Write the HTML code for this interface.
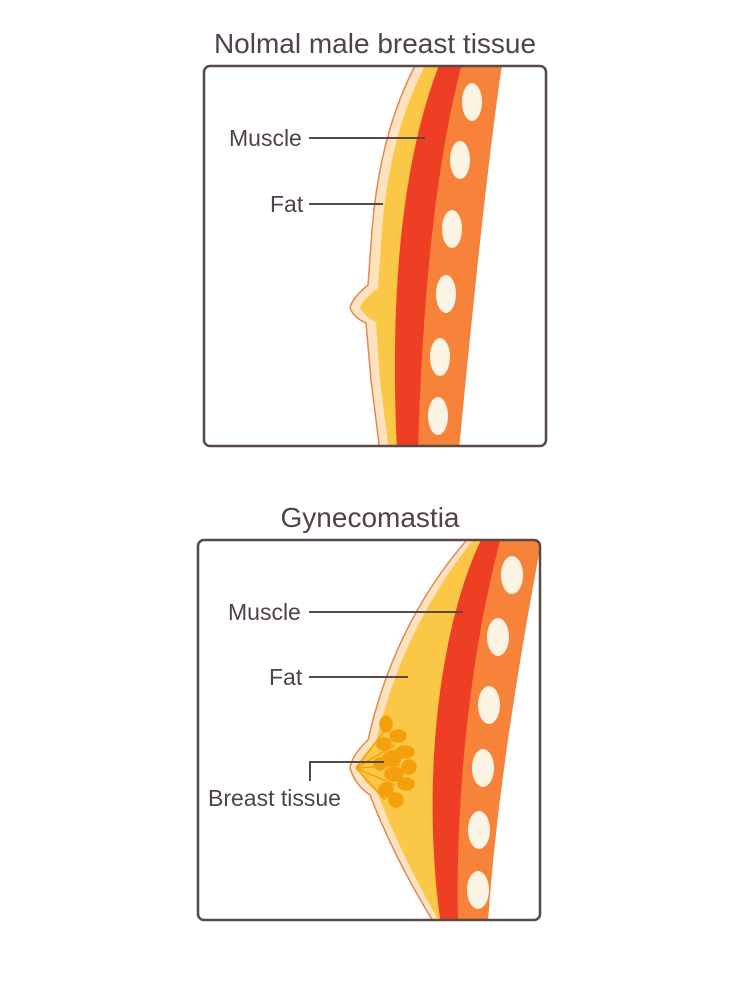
<!DOCTYPE html>
<html><head><meta charset="utf-8"><style>
html,body{margin:0;padding:0;background:#fff;}
svg{display:block;}
text{font-family:"Liberation Sans",sans-serif;fill:#4f4442;}
</style></head><body>
<svg width="750" height="1000" viewBox="0 0 750 1000" xmlns="http://www.w3.org/2000/svg">
<defs>
<clipPath id="c1"><rect x="204" y="66" width="342" height="380" rx="6"/></clipPath>
<clipPath id="c2"><rect x="198" y="540" width="342" height="380" rx="6"/></clipPath>
</defs>
<text x="375" y="53" font-size="28" text-anchor="middle">Nolmal male breast tissue</text>
<g clip-path="url(#c1)">
<path d="M418,60 Q380,130 372,230 L368,285 Q352,298 350,308 Q354,318 366,323 L371,380 L380,452 L458,452 Q485,170 502,60 Z" fill="#fde2bf" stroke="#e3874f" stroke-width="1.5"/>
<path d="M428,60 Q390,130 382,230 L378,288 Q362,300 360,308 Q364,316 376,322 L380,380 L389,452 L458,452 Q485,170 502,60 Z" fill="#fbc747"/>
<path d="M441,60 Q385,200 397,452 L458,452 Q485,170 502,60 Z" fill="#ee3f25"/>
<path d="M463,60 Q425,200 418,452 L458,452 Q485,170 502,60 Z" fill="#f7833a"/>
<g fill="#fbf4e4">
<ellipse cx="472" cy="102" rx="10" ry="19"/>
<ellipse cx="460" cy="160" rx="10" ry="19"/>
<ellipse cx="452" cy="229" rx="10" ry="19"/>
<ellipse cx="446" cy="294" rx="10" ry="19"/>
<ellipse cx="440" cy="357" rx="10" ry="19"/>
<ellipse cx="438" cy="416" rx="10" ry="19"/>
</g>
</g>
<rect x="204" y="66" width="342" height="380" rx="6" fill="none" stroke="#564946" stroke-width="2.5"/>
<text x="229" y="146" font-size="23">Muscle</text>
<line x1="309" y1="138" x2="425" y2="138" stroke="#564946" stroke-width="2"/>
<text x="270" y="212" font-size="23">Fat</text>
<line x1="309" y1="204" x2="383" y2="204" stroke="#564946" stroke-width="2"/>

<text x="370" y="527" font-size="28" text-anchor="middle">Gynecomastia</text>
<g clip-path="url(#c2)">
<path d="M472,534 Q395,620 368,740 Q352,755 350,768 Q355,785 370,795 Q395,860 436,926 L487,926 C495,800 520,650 542,534 Z" fill="#fde2bf" stroke="#e3874f" stroke-width="1.5"/>
<path d="M478,534 Q403,625 376,742 Q360,757 358,768 Q363,782 377,792 Q403,860 442,926 L487,926 C495,800 520,650 542,534 Z" fill="#fbc747"/>
<path d="M484,534 C440,620 420,780 441,926 L487,926 C495,800 520,650 542,534 Z" fill="#ee3f25"/>
<path d="M502,534 C470,650 455,800 458,926 L487,926 C495,800 520,650 542,534 Z" fill="#f7833a"/>
<g fill="#fbf4e4">
<ellipse cx="512" cy="575" rx="11" ry="19"/>
<ellipse cx="498" cy="637" rx="11" ry="19"/>
<ellipse cx="489" cy="705" rx="11" ry="19"/>
<ellipse cx="483" cy="768" rx="11" ry="19"/>
<ellipse cx="479" cy="830" rx="11" ry="19"/>
<ellipse cx="478" cy="890" rx="11" ry="19"/>
</g>
<g fill="#f4a00c" stroke="#f4a00c" stroke-width="1.5">
<line x1="356" y1="768" x2="385" y2="730"/><line x1="356" y1="768" x2="395" y2="745"/>
<line x1="356" y1="768" x2="400" y2="765"/><line x1="356" y1="768" x2="395" y2="785"/>
<line x1="356" y1="768" x2="385" y2="800"/>
<ellipse cx="386" cy="724" rx="6" ry="8"/>
<ellipse cx="398" cy="736" rx="8" ry="6"/>
<ellipse cx="384" cy="744" rx="7" ry="6"/>
<ellipse cx="405" cy="752" rx="9" ry="6"/>
<ellipse cx="392" cy="758" rx="9" ry="7"/>
<ellipse cx="409" cy="767" rx="7" ry="7"/>
<ellipse cx="394" cy="774" rx="9" ry="7"/>
<ellipse cx="406" cy="784" rx="8" ry="6"/>
<ellipse cx="386" cy="790" rx="7" ry="7"/>
<ellipse cx="396" cy="800" rx="7" ry="7"/>
<ellipse cx="380" cy="764" rx="6" ry="6"/>
</g>
</g>
<rect x="198" y="540" width="342" height="380" rx="6" fill="none" stroke="#564946" stroke-width="2.5"/>
<text x="228" y="620" font-size="23">Muscle</text>
<line x1="309" y1="612" x2="463" y2="612" stroke="#564946" stroke-width="2"/>
<text x="269" y="685" font-size="23">Fat</text>
<line x1="309" y1="677" x2="408" y2="677" stroke="#564946" stroke-width="2"/>
<text x="208" y="806" font-size="23">Breast tissue</text>
<polyline points="310,781 310,762 384,762" fill="none" stroke="#564946" stroke-width="2"/>
</svg>
</body></html>
